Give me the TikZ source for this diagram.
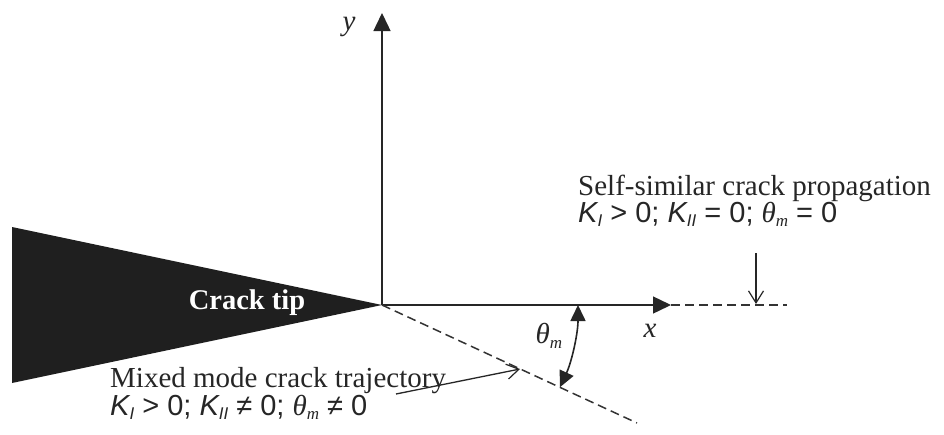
\documentclass[tikz,border=0pt]{standalone}
\usepackage{fontspec}
\setmainfont{Liberation Serif}
\newfontfamily\ksans{Liberation Sans}
\usetikzlibrary{arrows.meta}
\newcommand{\Ksub}[1]{{\ksans\itshape K}\raisebox{-0.35ex}{\fontsize{17}{20}\selectfont\ksans\itshape #1}}
\newcommand{\thsub}{{\itshape θ}\raisebox{-0.35ex}{\fontsize{17}{20}\selectfont\itshape m}}
\begin{document}
\begin{tikzpicture}[x=1pt,y=-1pt,
  axisline/.style={line width=1.4pt,draw=black!85},
  axistip/.style={-{Triangle[length=18pt,width=17pt]}},
  dashline/.style={line width=1.5pt,draw=black!80,dash pattern=on 9pt off 5pt},
  barb/.style={line width=1.3pt,draw=black!85,-{Straight Barb[length=12pt,width=15pt,line width=1.2pt]}},
  thetaarc/.style={line width=1.6pt,draw=black!85,{Triangle[length=16pt,width=15pt]}-{Triangle[length=16pt,width=15pt]}},
  lbl/.style={inner sep=0pt,text=black!85,font=\fontsize{29}{34}\selectfont},
  crackfill/.style={fill=black!88}]
\path[use as bounding box,fill=white] (0,0) rectangle (944,434);
% crack
\coordinate (O) at (382,305);
\coordinate (TL) at (12,227);
\coordinate (BL) at (12,383);
\fill[crackfill] (TL) -- (O) -- (BL) -- cycle;
\node[inner sep=0pt,text=white,font=\fontsize{28.5}{32}\selectfont\bfseries] (ctip) at (247,303) {Crack tip};
% axes
\coordinate (yend) at (382,13);
\coordinate (xend) at (671,305);
\coordinate (xdash) at (787,305);
\coordinate (dend) at (637,423);
\draw[axisline,axistip] (O) -- (yend);
\draw[axisline,axistip] (O) -- (xend);
\draw[dashline] (xend) -- (xdash);
\draw[dashline] (O) -- (dend);
\node[lbl,font=\fontsize{29}{34}\selectfont\itshape] (ylab) at (349,27) {y};
\node[lbl,font=\fontsize{29}{34}\selectfont\itshape] (xlab) at (650,331) {x};
% theta arc
\coordinate (a1) at (578,305);
\draw[thetaarc] (a1) arc[start angle=0,end angle=-24.8,radius=196pt];
\node[lbl] (thlab) at (549,336) {\thsub};
% self-similar
\node[lbl,anchor=base west] (ss1) at (578,195) {Self-similar crack propagation};
\node[lbl,anchor=base west] (ss2) at (578,222) {\Ksub{I}{\ksans\ >\ 0;\ }\Ksub{II}{\ksans\ =\ 0;\ }\thsub{\ksans\ =\ 0}};
\coordinate (ssa) at (756,253);
\coordinate (ssb) at (756,304);
\draw[barb] (ssa) -- (ssb);
% mixed mode
\node[lbl,anchor=base west] (mm1) at (110,387) {Mixed mode crack trajectory};
\node[lbl,anchor=base west] (mm2) at (110,415) {\Ksub{I}{\ksans\ >\ 0;\ }\Ksub{II}{\ksans\ ≠\ 0;\ }\thsub{\ksans\ ≠\ 0}};
\coordinate (maa) at (396,394);
\coordinate (mab) at (520,369);
\draw[barb] (maa) -- (mab);
\end{tikzpicture}
\end{document}
